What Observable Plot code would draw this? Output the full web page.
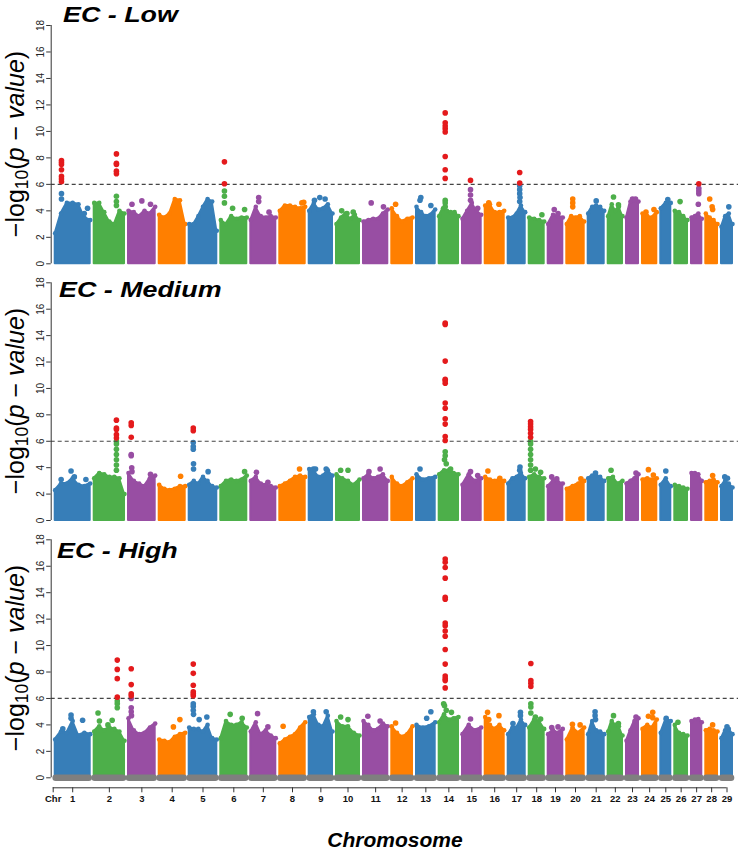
<!DOCTYPE html>
<html><head><meta charset="utf-8">
<script src="https://cdn.jsdelivr.net/npm/d3@7"></script>
<script src="https://cdn.jsdelivr.net/npm/@observablehq/plot@0.6"></script>
<style>
body{margin:0;background:#fff;}
#wrap{position:relative;width:743px;height:854px;overflow:hidden;font-family:"Liberation Sans",Arial,Helvetica,sans-serif;color:#000;}
.panel{position:absolute;left:0;}
.title{position:absolute;font-weight:bold;font-style:italic;font-size:22px;line-height:1;transform:scaleX(1.22);transform-origin:0 0;white-space:nowrap;}
.ylab{position:absolute;left:17px;font-size:25px;line-height:1;white-space:nowrap;transform:translate(-50%,-50%) rotate(-90deg);}
.ylab sub{font-size:0.7em;vertical-align:-0.25em;}
.xlab{position:absolute;left:395px;top:840px;font-weight:bold;font-style:italic;font-size:21px;line-height:1.1;white-space:nowrap;transform:translate(-50%,-50%);}
</style></head>
<body><div id="wrap"></div>
<script>
// ---------- data ----------
const chrNames = ["1","2","3","4","5","6","7","8","9","10","11","12","13","14","15","16","17","18","19","20","21","22","23","24","25","26","27","28","29"];
// relative chromosome widths
const chrSize = [39,34.3,30.7,30,31.6,30,29,29.4,27.3,27,28.3,24.7,22.7,23.3,22.7,23,21,19,18.6,21.4,20,18.3,16,18.3,14,16.7,14.3,15.7,15];
const palette = ["#377eb8","#4daf4a","#984ea3","#ff7f00"];
const sigColor = "#e41a1c";
const threshold = 6;
const yTicks = [0,2,4,6,8,10,12,14,16,18];
const panelTitles = ["EC - Low","EC - Medium","EC - High"];

// upper edge of the dense SNP cloud, left to right, per chromosome
const envLow = [
 [2.3,3.8,4.6,4.6,4.5,3.5,3.3],[4.6,4.6,3.9,3.2,3.0,4.0,3.8],[4.0,3.9,3.6,4.0,3.8,4.3],[3.7,3.5,3.8,4.9,4.8,3.0],
 [3.0,3.0,3.6,4.3,4.9,4.7,2.5],[3.3,3.0,3.6,3.4,3.5,3.5],[3.3,4.3,3.6,3.5,3.6,3.5],[4.0,4.4,4.4,4.3,4.2,4.3],
 [4.0,4.6,4.1,4.2,4.5,3.8],[3.0,3.5,3.8,3.4,3.7,3.3],[3.2,3.3,3.4,3.4,3.8,4.1],[4.2,3.6,3.2,3.4,3.5],
 [4.3,3.9,3.6,3.7,4.1],[3.6,4.2,4.0,3.9,3.9,3.6],[3.4,4.0,4.6,4.0,3.7],[4.4,4.5,3.9,3.9,4.0],
 [3.5,3.5,3.8,4.4,3.9],[3.5,3.4,3.3,3.2],[3.0,3.7,3.6,3.5],[3.0,3.6,3.5,3.6,3.2],
 [3.8,4.3,4.4,4.3,4.0],[3.6,4.5,4.0,4.3,3.6],[3.5,4.7,4.8,4.7],[3.8,3.6,3.5,3.9],
 [4.2,4.6,4.6],[4.0,3.9,3.6,3.3],[3.5,3.6,3.8,3.4],[3.8,3.5,3.3,3.0],[2.8,3.6,3.8,3.0]
];
// individual SNPs standing out: [chromosome, position within chromosome (0-1), -log10 p]
const dotsLow = [
 [1,0.16,5.3],[1,0.16,4.9],[1,0.16,7.8],[1,0.16,7.65],[1,0.16,7.5],[1,0.16,7.1],[1,0.16,6.6],[1,0.16,6.4],[1,0.16,6.2],[1,0.85,3.8],[1,0.95,4.2],
 [2,0.75,4.4],[2,0.75,4.7],[2,0.75,5.1],[2,0.75,6.8],[2,0.75,7.0],[2,0.75,7.5],[2,0.75,7.6],[2,0.75,8.3],
 [3,0.1,4.5],[3,0.5,4.75],[3,0.85,4.5],
 [6,0.11,4.6],[6,0.11,5.1],[6,0.11,5.5],[6,0.11,6.05],[6,0.11,7.7],[6,0.45,4.2],[6,0.95,4.1],
 [7,0.3,5.0],[7,0.3,4.7],[7,0.75,3.9],
 [8,0.9,4.6],[8,0.98,4.65],
 [9,0.2,4.8],[9,0.45,5.0],[9,0.7,4.9],
 [10,0.2,4.0],[10,0.45,3.8],[10,0.75,3.9],
 [11,0.3,4.6],[11,0.85,4.3],
 [12,0.15,4.5],
 [13,0.15,4.8],[13,0.2,5.0],[13,0.8,4.4],
 [14,0.29,4.3],[14,0.29,4.6],[14,0.29,4.8],[14,0.29,6.45],[14,0.29,7.1],[14,0.29,8.1],[14,0.29,9.95],[14,0.29,10.2],[14,0.29,10.4],[14,0.29,10.65],[14,0.29,11.4],
 [15,0.42,4.8],[15,0.42,5.2],[15,0.42,5.6],[15,0.42,6.3],[15,0.85,4.2],
 [16,0.15,4.6],[16,0.75,4.5],
 [17,0.7,4.7],[17,0.72,5.0],[17,0.7,5.3],[17,0.7,5.6],[17,0.7,5.9],[17,0.7,6.1],[17,0.7,6.9],
 [18,0.9,3.7],
 [19,0.4,4.1],[19,0.7,3.8],
 [20,0.32,4.3],[20,0.32,4.6],[20,0.32,4.9],
 [21,0.5,4.75],
 [22,0.35,5.05],[22,0.75,4.45],
 [23,0.5,4.9],[23,0.8,4.9],
 [24,0.2,3.9],[24,0.85,4.1],
 [25,0.75,4.85],
 [26,0.4,4.7],
 [27,0.7,4.5],[27,0.76,5.3],[27,0.76,5.5],[27,0.76,5.7],[27,0.76,6.05],
 [28,0.3,4.9],[28,0.55,4.3],[28,0.6,4.1],
 [29,0.7,4.3]
];

const envMed = [
 [2.3,2.8,2.8,3.2,2.7,2.6,2.8],[3.2,3.6,3.5,3.3,3.3,3.2,2.0],[3.6,3.0,2.8,2.6,3.2,3.4],[2.7,2.4,2.3,2.4,2.6,2.6],
 [2.7,3.0,2.8,3.3,3.0,2.6,2.5],[2.6,3.0,3.1,3.0,3.1,3.4],[3.0,3.3,2.8,2.7,2.6,2.5],[2.6,2.8,3.0,3.3,3.4,3.3],
 [3.9,3.8,3.3,3.4,3.8,3.4],[3.5,3.2,3.0,2.7,3.1],[3.2,3.5,3.2,3.3,3.5,3.0],[3.3,2.8,2.6,2.9,3.2],
 [3.5,3.1,3.2,3.3],[3.5,3.8,3.8,3.6,3.5],[2.7,3.5,3.0,3.2],[3.3,3.1,3.0,3.1,3.0],
 [2.8,3.2,3.3,3.6,3.2],[3.3,3.5,3.3,3.2],[2.6,3.0,2.9,2.8],[2.4,2.6,2.8,3.0],
 [3.2,3.4,3.4,3.3,3.0],[3.2,3.3,2.8,3.0],[2.8,3.0,3.2,3.5],[3.1,3.2,3.1,3.2],
 [2.7,3.2,2.6],[2.7,2.6,2.5,2.4],[3.6,3.6,3.5,3.0],[2.9,3.0,3.1,2.9],[2.6,3.0,2.8,2.5]
];
const dotsMed = [
 [1,0.15,3.1],[1,0.45,3.75],[1,0.55,3.3],[1,0.9,3.1],
 [2,0.75,3.8],[2,0.75,4.2],[2,0.75,4.6],[2,0.75,5.0],[2,0.75,5.4],[2,0.75,5.8],[2,0.75,6.0],[2,0.75,6.25],[2,0.75,6.5],[2,0.75,6.9],[2,0.75,7.0],[2,0.75,7.6],
 [3,0.07,4.9],[3,0.07,5.0],[3,0.09,4.0],[3,0.1,3.7],[3,0.85,3.5],[3,0.07,6.3],[3,0.07,7.2],[3,0.07,7.4],
 [4,0.85,3.35],
 [5,0.12,5.9],[5,0.12,5.6],[5,0.12,5.4],[5,0.13,4.3],[5,0.13,3.9],[5,0.7,3.7],[5,0.12,6.8],[5,0.12,7.0],
 [6,0.95,3.7],
 [7,0.2,3.65],[7,0.7,2.9],
 [8,0.8,3.9],
 [9,0.15,3.9],[9,0.25,3.9],[9,0.75,3.9],
 [10,0.15,3.8],[10,0.5,3.8],
 [11,0.2,3.7],[11,0.7,3.9],
 [13,0.15,3.9],
 [14,0.29,5.2],[14,0.29,4.9],[14,0.25,4.6],[14,0.35,4.3],[14,0.6,3.9],
 [14,0.29,14.95],[14,0.29,14.85],[14,0.29,12.07],[14,0.29,10.7],[14,0.29,10.6],[14,0.29,10.4],[14,0.29,8.9],[14,0.29,8.5],[14,0.29,7.7],[14,0.29,7.3],[14,0.29,6.36],[14,0.29,6.06],
 [15,0.42,3.7],[15,0.85,3.4],
 [16,0.1,3.75],[16,0.8,3.2],
 [17,0.72,4.05],[17,0.7,3.8],
 [18,0.03,3.8],[18,0.03,4.2],[18,0.03,4.6],[18,0.03,5.0],[18,0.03,5.4],[18,0.03,5.8],[18,0.03,6.0],
 [18,0.03,6.3],[18,0.03,6.6],[18,0.03,6.9],[18,0.03,7.1],[18,0.03,7.3],[18,0.03,7.5],[18,0.4,3.9],[18,0.8,3.65],
 [19,0.2,3.3],[19,0.6,3.15],
 [20,0.85,3.15],
 [21,0.45,3.6],
 [22,0.15,3.8],
 [23,0.85,3.6],
 [24,0.4,3.85],[24,0.8,3.45],
 [25,0.5,3.75],
 [28,0.6,3.4],
 [29,0.25,3.3],[29,0.55,3.2]
];

const envHigh = [
 [2.9,3.5,3.4,4.3,3.2,3.4,3.3],[3.5,3.9,3.6,3.8,3.7,3.5,2.8],[4.5,3.6,3.3,3.4,3.8,4.1],[2.9,2.8,2.7,3.1,3.3,3.4],
 [3.8,3.7,3.7,3.5,4.0,3.0,2.9],[3.0,4.3,4.0,4.0,4.2,3.8],[3.5,4.2,3.3,3.6,3.2,3.0],[2.6,2.9,3.1,3.3,3.8,4.2],
 [4.6,4.8,4.0,3.9,4.7,3.5],[4.3,3.9,3.9,3.4,3.2],[4.3,4.0,3.6,3.7,4.1,3.9],[3.9,3.4,3.1,3.3,3.9],
 [4.0,3.8,3.9,4.2],[4.2,4.8,4.4,4.5,4.6],[3.3,4.0,3.6,3.8],[4.6,4.0,3.7,4.0,3.6],
 [3.3,3.8,3.8,4.4,4.0],[3.8,4.4,4.3,3.7],[3.3,3.6,3.4,3.7],[2.9,3.8,3.4,3.8],
 [3.3,4.3,3.6,3.5,3.3],[3.5,4.3,4.0,3.9,3.2],[2.8,3.6,4.3,4.5],[3.7,4.0,3.8,4.4],
 [3.4,4.4,4.3],[4.0,3.4,3.3,3.2],[4.3,4.4,4.45,4.2],[3.6,3.7,3.6,3.5],[3.0,3.6,3.7,3.3]
];
const dotsHigh = [
 [1,0.2,3.7],[1,0.45,4.75],[1,0.45,4.5],[1,0.8,4.35],
 [2,0.1,4.9],[2,0.15,4.3],[2,0.45,4.0],[2,0.6,4.35],[2,0.78,5.3],[2,0.78,5.6],[2,0.78,5.8],[2,0.78,6.1],[2,0.78,7.5],[2,0.78,8.2],[2,0.78,8.9],
 [3,0.07,5.3],[3,0.07,5.0],[3,0.08,4.7],[3,0.07,6.0],[3,0.07,6.2],[3,0.07,6.35],[3,0.07,7.05],[3,0.07,8.25],
 [4,0.55,3.85],[4,0.82,4.4],
 [5,0.12,5.6],[5,0.12,5.4],[5,0.12,5.1],[5,0.13,4.8],[5,0.35,4.4],[5,0.65,4.6],[5,0.12,6.2],[5,0.12,6.35],[5,0.12,6.5],[5,0.12,7.0],[5,0.12,7.9],[5,0.12,8.6],
 [6,0.35,4.8],[6,0.85,4.5],
 [7,0.25,4.85],[7,0.7,3.85],
 [8,0.1,3.9],
 [9,0.15,5.0],[9,0.75,5.0],
 [10,0.15,4.6],[10,0.5,4.4],
 [11,0.15,4.65],[11,0.7,4.3],
 [12,0.15,4.15],
 [13,0.55,4.5],[13,0.8,5.0],
 [14,0.2,5.6],[14,0.25,5.45],[14,0.35,5.1],[14,0.65,4.95],
 [14,0.29,16.55],[14,0.29,16.3],[14,0.29,15.9],[14,0.29,15.1],[14,0.29,13.65],[14,0.29,13.5],[14,0.29,11.7],[14,0.29,11.5],
 [14,0.29,11.1],[14,0.29,10.7],[14,0.29,9.7],[14,0.29,8.6],[14,0.29,7.7],[14,0.29,7.5],[14,0.29,7.35],[14,0.29,6.8],
 [15,0.42,4.45],
 [16,0.08,4.95],[16,0.15,4.4],[16,0.75,4.7],
 [17,0.25,4.1],[17,0.75,4.95],[17,0.75,4.7],
 [18,0.05,5.6],[18,0.05,5.35],[18,0.05,4.9],[18,0.4,4.6],[18,0.8,4.45],[18,0.05,6.9],[18,0.05,7.15],[18,0.05,7.35],[18,0.05,8.65],
 [19,0.2,3.8],[19,0.7,3.85],
 [20,0.3,4.05],[20,0.8,4.0],
 [21,0.42,5.0],[21,0.42,4.7],[21,0.45,4.4],
 [22,0.35,4.7],[22,0.75,4.1],
 [23,0.85,4.6],
 [24,0.4,4.65],[24,0.75,4.95],[24,0.75,4.55],
 [25,0.55,4.5],
 [26,0.2,4.2],
 [28,0.6,4.0],
 [29,0.5,3.85]
];

// ---------- layout helpers ----------
const W = 743;
const total = d3.sum(chrSize);
const starts = chrSize.map((w, i) => d3.sum(chrSize.slice(0, i)));
const mids = chrSize.map((w, i) => starts[i] + w / 2);
const chrColor = i => palette[i % palette.length];
const wrap = document.getElementById("wrap");

function buildPanel(env, dots, opt) {
  const areaData = [];
  env.forEach((vals, i) => {
    const s = starts[i], w = chrSize[i], n = vals.length;
    vals.forEach((v, j) => areaData.push({chr: i, x: s + 2 + (w - 4) * j / (n - 1), y: v}));
  });
  const dotData = dots.map(([c, f, v]) => ({
    chr: c - 1, x: starts[c - 1] + 3 + (chrSize[c - 1] - 6) * f, y: v, sig: v > threshold
  }));
  const ppu = (opt.height - opt.mt - opt.mb) / 18;
  const marks = [
    Plot.areaY(areaData, {x: "x", y: "y", z: "chr", fill: d => chrColor(d.chr), stroke: d => chrColor(d.chr),
      strokeWidth: 2, strokeLinejoin: "round", curve: "linear"}),
    Plot.dot(areaData, {x: "x", y: "y", r: 2.3, fill: d => chrColor(d.chr)}),
    Plot.dot(dotData.filter(d => !d.sig), {x: "x", y: "y", r: 2.8, fill: d => chrColor(d.chr)}),
    Plot.ruleY([threshold], {stroke: "#444", strokeDasharray: "4,3", strokeWidth: 1.2}),
    Plot.dot(dotData.filter(d => d.sig), {x: "x", y: "y", r: 2.8, fill: sigColor}),
    // y axis
    Plot.ruleX([-2], {y1: 0, y2: 18, stroke: "#333"}),
    Plot.ruleY(yTicks, {y: d => d, x1: -6.5, x2: -2, stroke: "#333"}),
    Plot.text(yTicks, {y: d => d, x: -12.7, text: d => String(d), rotate: -90, fontSize: 10, fill: "#222",
      textAnchor: "middle", lineAnchor: "middle"})
  ];
  if (opt.grey) {
    marks.push(Plot.ruleY(chrSize.map((w, i) => i), {y: () => 0, x1: i => starts[i] + 3, x2: i => starts[i] + chrSize[i] - 3,
      stroke: "#7f7f7f", strokeWidth: 6.6, strokeLinecap: "round"}));
  }
  if (opt.xaxis) {
    const ticks = [{x: 0, label: "Chr"}, ...mids.map((m, i) => ({x: m, label: chrNames[i]}))];
    const yLine = -10 / ppu, yTick = -15 / ppu;
    marks.push(
      Plot.ruleY([yLine], {x1: 0, x2: mids[mids.length - 1], stroke: "#333"}),
      Plot.ruleX(ticks, {x: "x", y1: yLine, y2: yTick, stroke: "#333"}),
      Plot.text(ticks, {x: "x", text: "label", frameAnchor: "bottom", dy: 24.2, fontSize: 9.5, fontWeight: "bold", fill: "#111"})
    );
  }
  const svg = Plot.plot({
    width: W, height: opt.height,
    marginLeft: 50.7, marginRight: 5, marginTop: opt.mt, marginBottom: opt.mb,
    x: {domain: [-2, total + 4], axis: null},
    y: {domain: [0, 18], axis: null},
    color: {type: "identity"},
    style: {fontFamily: "'Liberation Sans', Arial, Helvetica, sans-serif", background: "transparent", overflow: "visible"},
    marks
  });
  const div = document.createElement("div");
  div.className = "panel";
  div.style.top = opt.top + "px";
  div.appendChild(svg);
  wrap.appendChild(div);
}

const panels = [
  {env: envLow, dots: dotsLow, top: 0, height: 270, mt: 25, mb: 6.7, titleTop: 4.1, titleLeft: 63},
  {env: envMed, dots: dotsMed, top: 270, height: 257, mt: 12.3, mb: 7, titleTop: 279.1, titleLeft: 59},
  {env: envHigh, dots: dotsHigh, top: 527, height: 327, mt: 12.3, mb: 76.7, titleTop: 540.1, titleLeft: 57, grey: true, xaxis: true}
];
panels.forEach((p, k) => {
  buildPanel(p.env, p.dots, p);
  const t = document.createElement("div");
  t.className = "title";
  t.style.left = p.titleLeft + "px";
  t.style.top = p.titleTop + "px";
  t.textContent = panelTitles[k];
  wrap.appendChild(t);
  const yl = document.createElement("div");
  yl.className = "ylab";
  yl.style.top = (p.top + p.mt + (p.height - p.mt - p.mb) / 2) + "px";
  yl.innerHTML = "\u2212log<sub>10</sub>(<i>p</i> \u2212 <i>value</i>)";
  wrap.appendChild(yl);
});
const xl = document.createElement("div");
xl.className = "xlab";
xl.textContent = "Chromosome";
wrap.appendChild(xl);
</script>
</body></html>
